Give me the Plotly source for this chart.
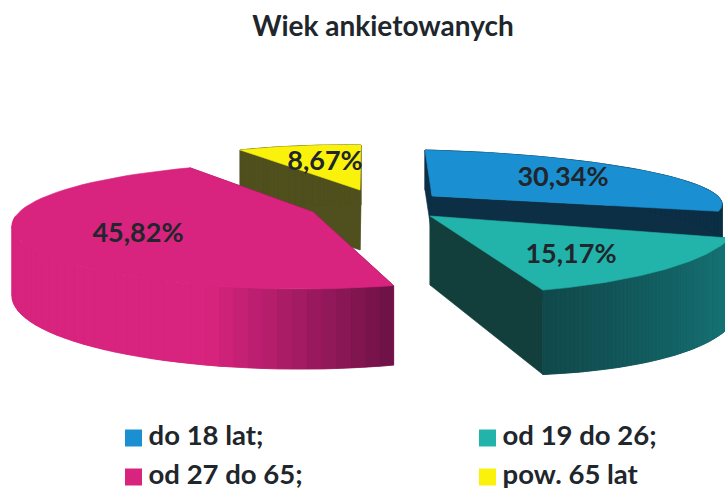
import numpy as np
import plotly.graph_objects as go

TITLE = "Wiek ankietowanych"
categories = ["do 18 lat;", "od 19 do 26;", "od 27 do 65;", "pow. 65 lat"]
values = [30.34, 15.17, 45.82, 8.67]

FONT = "Lato, Carlito, sans-serif"
INK = "#20262b"
W, H = 725, 491

# drawing style of each exploded slice (projection of the tilted pie)
STYLE = {
    "do 18 lat;": dict(top="#1a90d2", radial="#0c2f45", outer=("#0c2f45", "#0c2f45"),
                       apex=(432, 196), centre=(432, 196), rx=290, ry=46, sx=-7, sy=7,
                       rot=0, stretch=0.92, d0=40, ky=0, kx=0, shade=1.0),
    "od 19 do 26;": dict(top="#22b4ab", radial="#123f3c", outer=("#16777a", "#11484a"),
                         apex=(430, 216), centre=(430, 216), rx=308, ry=78.3, sx=-28.2, sy=-3.9,
                         rot=0, stretch=1, d0=69, ky=0.124, kx=0.055, shade=1.0),
    "od 27 do 65;": dict(top="#d8247e", radial="#6f1247", outer=("#6f1247", "#d8247e"),
                         apex=(313, 212), centre=(300, 226), rx=288, ry=63, sx=0, sy=0,
                         rot=-2.8, stretch=1.07, d0=70, ky=0.16, kx=0, shade=0.2),
    "pow. 65 lat": dict(top="#fbf20c", radial="#50501f", outer=("#50501f", "#50501f"),
                        apex=(360, 190), centre=(360, 190), rx=233, ry=45, sx=1, sy=3,
                        rot=0, stretch=1, d0=60, ky=0, kx=0, shade=1.0),
}
LABEL_POS = {"do 18 lat;": (563, 179), "od 19 do 26;": (571, 256),
             "od 27 do 65;": (138, 235), "pow. 65 lat": (325, 163)}
LEGEND_POS = {"do 18 lat;": (133.5, 438), "od 19 do 26;": (487.5, 438),
              "od 27 do 65;": (133.5, 477), "pow. 65 lat": (487.5, 477)}
DRAW_ORDER = ["pow. 65 lat", "od 27 do 65;", "do 18 lat;", "od 19 do 26;"]


def mix(c1, c2, t):
    a = [int(c1[i:i + 2], 16) for i in (1, 3, 5)]
    b = [int(c2[i:i + 2], 16) for i in (1, 3, 5)]
    return "rgb(%d,%d,%d)" % tuple(round(p + (q - p) * t) for p, q in zip(a, b))


def poly(fig, xs, ys, color):
    fig.add_trace(go.Scatter(x=list(xs), y=list(ys), mode="lines", fill="toself",
                             fillcolor=color, line=dict(color=color, width=0.6),
                             hoverinfo="skip", showlegend=False))


def drop(s, x, y):
    return s["d0"] + s["ky"] * (y - s["centre"][1]) + s["kx"] * (x - s["centre"][0])


total = sum(values)
edges = np.cumsum([0] + values) / total * 360
spans = {c: (edges[i], edges[i + 1]) for i, c in enumerate(categories)}

fig = go.Figure()
for name in DRAW_ORDER:
    s = STYLE[name]
    a0, a1 = spans[name]
    ang = np.radians(s["rot"] + a0 + (np.linspace(a0, a1, 61) - a0) * s["stretch"])
    cx, cy = s["centre"]
    x = cx + s["rx"] * np.sin(ang) + s["sx"] * np.cos(ang)
    y = cy - s["ry"] * np.cos(ang) + s["sy"] * np.sin(ang)
    ax, ay = s["apex"]
    by = y + drop(s, x, y)
    bay = ay + drop(s, ax, ay)
    # radial cut faces
    poly(fig, [ax, x[0], x[0], ax, ax], [ay, y[0], by[0], bay, ay], s["radial"])
    poly(fig, [ax, x[-1], x[-1], ax, ax], [ay, y[-1], by[-1], bay, ay], s["radial"])
    # solid rim underneath (front-facing part only), so the strips leave no pale seams
    left = int(np.argmin(x))
    end = left + 1 if left > 0 else len(x)
    fx, fy, fb = x[:end], y[:end], by[:end]
    poly(fig, [*fx, *fx[::-1], fx[0]], [*fy, *fb[::-1], fy[0]], s["outer"][1])
    # outer rim in strips, shaded across the slice
    for i in range(min(len(x) - 1, end + 2)):
        t = min(1.0, i / (len(x) * s["shade"]))
        poly(fig, [x[i], x[i + 1], x[i + 1], x[i], x[i]],
             [y[i], y[i + 1], by[i + 1], by[i], y[i]], mix(*s["outer"], t))
    # top face
    poly(fig, [ax, *x, ax], [ay, *y, ay], s["top"])

# percentage labels
for name, v in zip(categories, values):
    px, py = LABEL_POS[name]
    fig.add_trace(go.Scatter(x=[px], y=[py], mode="text", text=[f"{v:.2f}%".replace(".", ",")],
                             textfont=dict(family=FONT, size=27, color=INK, weight=700),
                             textposition="middle center", hoverinfo="skip", showlegend=False))

# legend
for name in categories:
    px, py = LEGEND_POS[name]
    fig.add_trace(go.Scatter(x=[px], y=[py], mode="markers+text", text=["\u2009" + name],
                             marker=dict(symbol="square", size=17, color=STYLE[name]["top"]),
                             textposition="middle right",
                             textfont=dict(family=FONT, size=27.5, color=INK, weight=700),
                             hoverinfo="skip", showlegend=False, cliponaxis=False))

fig.update_layout(
    width=W, height=H, margin=dict(l=0, r=0, t=0, b=0),
    paper_bgcolor="white", plot_bgcolor="white", showlegend=False,
    title=dict(text=TITLE, x=383 / W, xanchor="center", y=1 - 26 / H, yanchor="middle",
               font=dict(family=FONT, size=28, color=INK, weight=700)),
    xaxis=dict(range=[0, W], visible=False, fixedrange=True),
    yaxis=dict(range=[H, 0], visible=False, fixedrange=True),
)
fig.write_html("out.html", config=dict(displayModeBar=False),
               post_script="document.body.style.margin='0';document.body.style.overflow='hidden';")
